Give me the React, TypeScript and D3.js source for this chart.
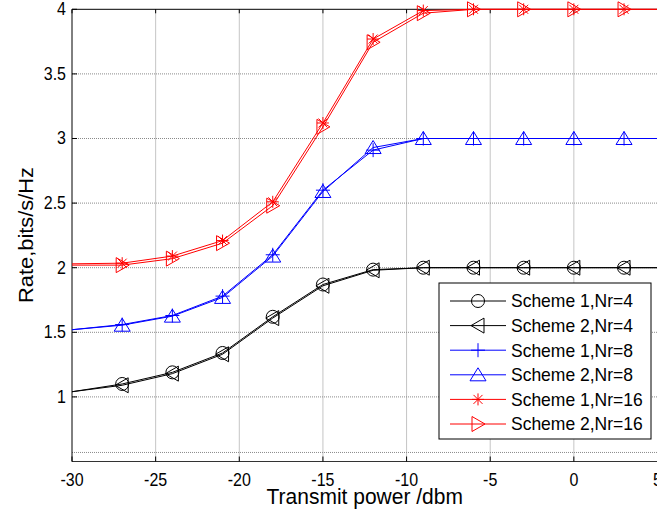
import React from "react";
import * as d3 from "d3";

const xValues = [-30, -27, -24, -21, -18, -15, -12, -9, -6, -3, 0, 3, 5];
const markerIdx = [1, 2, 3, 4, 5, 6, 7, 8, 9, 10, 11];
const s1nr4 = [1.04, 1.10, 1.19, 1.34, 1.62, 1.87, 1.985, 2, 2, 2, 2, 2, 2];
const s2nr4 = [1.04, 1.09, 1.18, 1.33, 1.61, 1.86, 1.98, 2, 2, 2, 2, 2, 2];
const s1nr8 = [1.52, 1.56, 1.63, 1.78, 2.10, 2.60, 2.91, 3, 3, 3, 3, 3, 3];
const s2nr8 = [1.52, 1.555, 1.625, 1.77, 2.09, 2.59, 2.93, 3, 3, 3, 3, 3, 3];
const s1nr16 = [2.03, 2.035, 2.09, 2.21, 2.51, 3.12, 3.77, 3.99, 4, 4, 4, 4, 4];
const s2nr16 = [2.02, 2.02, 2.07, 2.19, 2.48, 3.09, 3.745, 3.97, 4, 4, 4, 4, 4];
const seriesNames = [
  "Scheme 1,Nr=4",
  "Scheme 2,Nr=4",
  "Scheme 1,Nr=8",
  "Scheme 2,Nr=8",
  "Scheme 1,Nr=16",
  "Scheme 2,Nr=16",
];
const seriesValues = [s1nr4, s2nr4, s1nr8, s2nr8, s1nr16, s2nr16];
const seriesColors = ["#000000", "#000000", "#0000ff", "#0000ff", "#ff0000", "#ff0000"];
const seriesMarkers = ["circle", "tleft", "plus", "tup", "star", "tright"];
const xTicks = [-30, -25, -20, -15, -10, -5, 0, 5];
const yTicks = [1, 1.5, 2, 2.5, 3, 3.5, 4];
const xLabel = "Transmit power /dbm";
const yLabel = "Rate,bits/s/Hz";

const W = 657;
const H = 521;
const FONT = "'Liberation Sans', Arial, sans-serif";

function Marker({ type, cx, cy, color }: { type: string; cx: number; cy: number; color: string }) {
  const common = { fill: "none", stroke: color, strokeWidth: 1 };
  switch (type) {
    case "circle":
      return <circle cx={cx} cy={cy} r={6.5} {...common} />;
    case "tleft":
      return <path d={`M${cx - 7},${cy}L${cx + 6},${cy - 7.5}L${cx + 6},${cy + 7.5}Z`} {...common} />;
    case "tright":
      return <path d={`M${cx + 7},${cy}L${cx - 6},${cy - 7.5}L${cx - 6},${cy + 7.5}Z`} {...common} />;
    case "tup":
      return <path d={`M${cx},${cy - 7}L${cx - 8},${cy + 6}L${cx + 8},${cy + 6}Z`} {...common} />;
    case "plus":
      return <path d={`M${cx - 7},${cy}H${cx + 7}M${cx},${cy - 7}V${cy + 7}`} {...common} />;
    case "star":
      return (
        <path
          d={`M${cx - 6},${cy}H${cx + 6}M${cx},${cy - 6}V${cy + 6}M${cx - 4.5},${cy - 4.5}L${cx + 4.5},${cy + 4.5}M${cx - 4.5},${cy + 4.5}L${cx + 4.5},${cy - 4.5}`}
          {...common}
        />
      );
    default:
      return null;
  }
}

export default function App() {
  const x = d3.scaleLinear().domain([-30, 5]).range([72, 657.5]);
  const y = d3.scaleLinear().domain([0.5, 4]).range([461.5, 9.3]);
  const line = d3
    .line<number>()
    .x((_, i) => x(xValues[i]))
    .y((d) => y(d));

  const gridColor = "#8a8a8a";
  const legX0 = 439;
  const legY0 = 283;
  const legW = 212;
  const legH = 156;
  const rowY0 = 301;
  const rowStep = 24.6;

  return (
    <svg
      width={W}
      height={H}
      style={{ position: "absolute", left: 0, top: 0, background: "#fff" }}
      fontFamily={FONT}
    >
      <rect x={0} y={0} width={W} height={H} fill="#fff" />
      {/* grid */}
      {xTicks.slice(1, -1).map((t) => (
        <line key={"gx" + t} x1={x(t)} x2={x(t)} y1={y(0.5)} y2={y(4)} stroke={gridColor} strokeWidth={1} strokeDasharray="1,1" />
      ))}
      {yTicks.slice(0, -1).map((t) => (
        <line key={"gy" + t} x1={x(-30)} x2={x(5)} y1={y(t)} y2={y(t)} stroke={gridColor} strokeWidth={1} strokeDasharray="1,1" />
      ))}
      <line x1={x(-30)} x2={x(5)} y1={y(0.57)} y2={y(0.57)} stroke={gridColor} strokeWidth={1} strokeDasharray="1,1" />

      {/* axes box */}
      <line x1={x(-30)} x2={x(5)} y1={y(0.5)} y2={y(0.5)} stroke="#333" strokeWidth={1} />
      <line x1={x(-30)} x2={x(5)} y1={y(4)} y2={y(4)} stroke="#000" strokeWidth={1} />
      <line x1={x(-30)} x2={x(-30)} y1={y(0.5)} y2={y(4)} stroke="#000" strokeWidth={1} />
      {/* ticks */}
      {xTicks.map((t) => (
        <g key={"tx" + t}>
          <line x1={x(t)} x2={x(t)} y1={y(0.5)} y2={y(0.5) - 5} stroke="#000" />
          <line x1={x(t)} x2={x(t)} y1={y(4)} y2={y(4) + 4} stroke="#000" />
          <text
            x={x(t)}
            y={y(0.5) + 24.5}
            textAnchor="middle"
            fontSize={16}
            transform={`translate(0,${(y(0.5) + 24.5) * -0.1}) scale(1,1.1)`}
          >
            {t}
          </text>
        </g>
      ))}
      {yTicks.map((t) => (
        <g key={"ty" + t}>
          <line x1={x(-30)} x2={x(-30) + 5} y1={y(t)} y2={y(t)} stroke="#000" />
          <text
            x={x(-30) - 6}
            y={y(t) + 6}
            textAnchor="end"
            fontSize={16}
            transform={`translate(0,${(y(t) + 6) * -0.12}) scale(1,1.12)`}
          >
            {t}
          </text>
        </g>
      ))}

      {/* series */}
      {seriesValues.map((vals, si) => (
        <g key={"s" + si}>
          <path d={line(vals) || ""} fill="none" stroke={seriesColors[si]} strokeWidth={1} />
          {markerIdx.map((i) => (
            <Marker key={i} type={seriesMarkers[si]} cx={x(xValues[i])} cy={y(vals[i])} color={seriesColors[si]} />
          ))}
        </g>
      ))}

      {/* axis labels */}
      <text
        x={x(-12.5)}
        y={504.5}
        textAnchor="middle"
        fontSize={21}
        transform={`translate(0,${504.5 * -0.08}) scale(1,1.08)`}
      >
        {xLabel}
      </text>
      <text
        textAnchor="middle"
        fontSize={19.5}
        transform={`translate(33,235) rotate(-90) scale(1.12,1)`}
      >
        {yLabel}
      </text>

      {/* legend */}
      <rect x={legX0} y={legY0} width={legW} height={legH} fill="#fff" stroke="#000" strokeWidth={1} />
      {seriesNames.map((name, i) => {
        const cy = rowY0 + i * rowStep;
        return (
          <g key={"l" + i}>
            <line x1={450} x2={506} y1={cy} y2={cy} stroke={seriesColors[i]} strokeWidth={1} />
            <Marker type={seriesMarkers[i]} cx={478} cy={cy} color={seriesColors[i]} />
            <text
              x={511}
              y={cy + 6.5}
              fontSize={17.5}
              transform={`translate(0,${(cy + 6.5) * -0.06}) scale(1,1.06)`}
            >
              {name}
            </text>
          </g>
        );
      })}
    </svg>
  );
}
